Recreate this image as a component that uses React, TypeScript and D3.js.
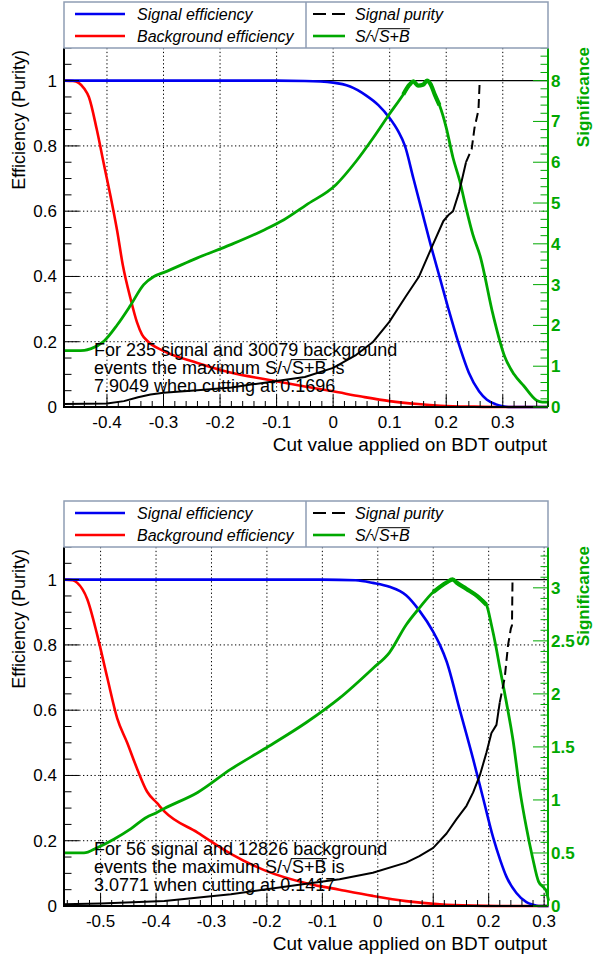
import React from 'react';
import * as d3 from 'd3';

type Pt = [number, number];

const FONT = "'Liberation Sans', Arial, Helvetica, sans-serif";
const BLUE = '#0000f0';
const RED = '#ff0000';
const GREEN = '#00a800';
const FRAME = '#8e9db4';

// ---------- Panel 1 data (BDT output, value) ----------
const sigEff1: Pt[] = [[-0.476,1],[-0.1,1],[-0.05,0.999],[0,0.994],[0.03,0.982],[0.058,0.955],[0.08,0.925],[0.1,0.885],[0.115,0.845],[0.127,0.8],[0.142,0.7],[0.157,0.6],[0.172,0.5],[0.188,0.4],[0.204,0.3],[0.221,0.2],[0.24,0.105],[0.258,0.048],[0.272,0.022],[0.288,0.008],[0.3,0.002],[0.31,0],[0.38,0]];
const bkgEff1: Pt[] = [[-0.476,1],[-0.46,0.999],[-0.45,0.993],[-0.44,0.975],[-0.432,0.95],[-0.418,0.85],[-0.405,0.74],[-0.393,0.64],[-0.382,0.54],[-0.372,0.435],[-0.358,0.33],[-0.347,0.26],[-0.338,0.222],[-0.329,0.203],[-0.3,0.172],[-0.24,0.135],[-0.18,0.105],[-0.12,0.085],[-0.05,0.063],[0,0.048],[0.05,0.032],[0.1,0.018],[0.15,0.009],[0.19,0.004],[0.25,0.001],[0.3,0],[0.38,0]];
const purity1: Pt[] = [[-0.476,0.009],[-0.4,0.011],[-0.37,0.018],[-0.345,0.03],[-0.323,0.038],[-0.3,0.044],[-0.24,0.051],[-0.18,0.06],[-0.1,0.08],[-0.05,0.092],[0,0.12],[0.041,0.16],[0.071,0.2],[0.099,0.26],[0.129,0.34],[0.152,0.4],[0.177,0.5],[0.195,0.57],[0.205,0.59],[0.212,0.6],[0.223,0.66],[0.235,0.75],[0.245,0.79],[0.25,0.855],[0.257,0.91],[0.259,0.99],[0.26,1],[0.38,1]];
const signif1: Pt[] = [[-0.476,1.38],[-0.44,1.39],[-0.428,1.43],[-0.405,1.62],[-0.382,2.01],[-0.358,2.5],[-0.335,3.0],[-0.317,3.2],[-0.299,3.3],[-0.241,3.65],[-0.181,3.98],[-0.122,4.34],[-0.087,4.59],[-0.048,4.95],[0.005,5.45],[0.041,6.03],[0.071,6.6],[0.099,7.17],[0.124,7.66],[0.135,7.9],[0.142,7.98],[0.15,7.88],[0.159,7.9],[0.166,8.0],[0.172,7.92],[0.18,7.65],[0.188,7.4],[0.2,6.85],[0.212,6.11],[0.224,5.54],[0.235,4.88],[0.247,4.23],[0.26,3.7],[0.283,2.25],[0.303,1.25],[0.32,0.8],[0.337,0.52],[0.36,0.16],[0.37,0.12],[0.38,0.12]];
const xTicks1 = [-0.4, -0.3, -0.2, -0.1, 0, 0.1, 0.2, 0.3];
const sigTicks1 = [0, 1, 2, 3, 4, 5, 6, 7, 8];
const note1 = ['For 235 signal and 30079 background', 'events the maximum S/√S+B is', '7.9049 when cutting at 0.1696'];

// ---------- Panel 2 data ----------
const sigEff2: Pt[] = [[-0.566,1],[-0.1,1],[-0.04,0.998],[-0.009,0.99],[0.021,0.978],[0.051,0.952],[0.075,0.905],[0.1,0.84],[0.112,0.8],[0.124,0.75],[0.148,0.6],[0.172,0.45],[0.19,0.33],[0.208,0.21],[0.221,0.14],[0.232,0.09],[0.25,0.04],[0.268,0.012],[0.28,0.004],[0.29,0],[0.308,0]];
const bkgEff2: Pt[] = [[-0.566,1],[-0.55,0.998],[-0.542,0.99],[-0.524,0.94],[-0.506,0.83],[-0.488,0.7],[-0.47,0.575],[-0.452,0.5],[-0.434,0.42],[-0.416,0.35],[-0.398,0.315],[-0.385,0.29],[-0.325,0.225],[-0.265,0.16],[-0.205,0.11],[-0.129,0.07],[-0.069,0.05],[-0.009,0.031],[0.051,0.015],[0.112,0.005],[0.17,0.001],[0.22,0],[0.308,0]];
const purity2: Pt[] = [[-0.566,0.005],[-0.5,0.008],[-0.385,0.015],[-0.265,0.036],[-0.129,0.068],[-0.069,0.082],[-0.009,0.102],[0.051,0.133],[0.075,0.153],[0.1,0.178],[0.124,0.222],[0.142,0.266],[0.16,0.307],[0.172,0.348],[0.184,0.4],[0.196,0.47],[0.205,0.53],[0.214,0.555],[0.22,0.624],[0.229,0.7],[0.235,0.8],[0.24,0.85],[0.242,0.86],[0.243,1],[0.308,1]];
const signif2: Pt[] = [[-0.566,0.5],[-0.53,0.5],[-0.506,0.55],[-0.476,0.63],[-0.445,0.73],[-0.416,0.84],[-0.403,0.87],[-0.385,0.92],[-0.325,1.07],[-0.265,1.29],[-0.205,1.48],[-0.129,1.73],[-0.069,1.96],[-0.009,2.24],[0.021,2.39],[0.051,2.65],[0.075,2.81],[0.1,2.96],[0.124,3.05],[0.135,3.08],[0.142,3.05],[0.16,2.99],[0.18,2.92],[0.196,2.84],[0.205,2.65],[0.213,2.45],[0.22,2.25],[0.232,1.92],[0.244,1.56],[0.256,1.1],[0.268,0.74],[0.279,0.46],[0.29,0.23],[0.3,0.17],[0.304,0.14],[0.308,0.05]];
const xTicks2 = [-0.5, -0.4, -0.3, -0.2, -0.1, 0, 0.1, 0.2, 0.3];
const sigTicks2 = [0, 0.5, 1, 1.5, 2, 2.5, 3];
const note2 = ['For 56 signal and 12826 background', 'events the maximum S/√S+B is', '3.0771 when cutting at 0.1417'];

const effTicks = [0, 0.2, 0.4, 0.6, 0.8, 1];

const fmt = (v: number) => (Math.abs(v) < 1e-9 ? '0' : String(+v.toFixed(2)));

let ctx: CanvasRenderingContext2D | null = null;
function measure(text: string, size: number, italic = false): number {
  if (!ctx) ctx = document.createElement('canvas').getContext('2d');
  if (!ctx) return text.length * size * 0.5;
  ctx.font = `${italic ? 'italic ' : ''}${size}px 'Liberation Sans', Arial, sans-serif`;
  return ctx.measureText(text).width;
}

// draws a text containing "√S+B" and adds the radical's bar over "S+B"
function RadText({ x, y, text, size, italic }: { x: number; y: number; text: string; size: number; italic?: boolean }) {
  const i = text.indexOf('√');
  const a = x + measure(text.slice(0, i + 1), size, italic) - size * 0.06;
  const b = x + measure(text.slice(0, i + 4), size, italic) + size * 0.02;
  const by = y - size * 0.8;
  return (
    <g>
      <text x={x} y={y} fontSize={size} fontStyle={italic ? 'italic' : undefined}>{text}</text>
      <line x1={a} x2={b} y1={by} y2={by} stroke="#000" strokeWidth={1} />
    </g>
  );
}

interface PanelProps {
  y0: number;
  xDomain: [number, number];
  xTicks: number[];
  sigMax: number;
  sigTicks: number[];
  sigMinor: number;
  sigEff: Pt[];
  bkgEff: Pt[];
  purity: Pt[];
  signif: Pt[];
  dashFrom: number;
  noisy: [number, number];
  note: string[];
}

function Panel(p: PanelProps) {
  const L = 64, R = 548;
  const T = 48 + p.y0, B = 407 + p.y0;
  const x = d3.scaleLinear().domain(p.xDomain).range([L, R]);
  const y = d3.scaleLinear().domain([0, 1.1]).range([B, T]);
  const ys = d3.scaleLinear().domain([0, p.sigMax]).range([B, T]);
  const line = d3.line<Pt>().x(d => x(d[0])).y(d => y(d[1])).curve(d3.curveMonotoneX);
  const lineLin = d3.line<Pt>().x(d => x(d[0])).y(d => y(d[1]));
  const sline = d3.line<Pt>().x(d => x(d[0])).y(d => ys(d[1])).curve(d3.curveMonotoneX);

  const minorX = d3.range(Math.ceil(p.xDomain[0] / 0.02 - 1e-6), Math.floor(p.xDomain[1] / 0.02 + 1e-6) + 1).map(i => i * 0.02);
  const minorY = d3.range(0, 23).map(i => i * 0.05).filter(v => v <= 1.1 + 1e-9);
  const nMinorS = Math.floor(p.sigMax / p.sigMinor + 1e-6);
  const minorS = d3.range(0, nMinorS + 1).map(i => i * p.sigMinor);

  const purSolid = p.purity.filter(d => d[0] <= p.dashFrom);
  const lastSolid = purSolid[purSolid.length - 1];
  const purDash = [lastSolid, ...p.purity.filter(d => d[0] > p.dashFrom && d[1] < 1)];
  const firstOne = p.purity.find(d => d[1] >= 1);
  if (firstOne) purDash.push(firstOne);

  const noisyPart = p.signif.filter(d => d[0] >= p.noisy[0] && d[0] <= p.noisy[1]);

  const ly = 2 + p.y0;
  const row1 = ly + 12, row2 = ly + 34;

  return (
    <g fontFamily={FONT}>
      {/* grid */}
      {p.xTicks.map(t => (
        <line key={'gx' + t} x1={x(t)} x2={x(t)} y1={T} y2={B} stroke="#000" strokeWidth={1} strokeDasharray="1.3,2.5" />
      ))}
      {effTicks.filter(t => t > 0 && t < 1).map(t => (
        <line key={'gy' + t} x1={L} x2={R} y1={y(t)} y2={y(t)} stroke="#000" strokeWidth={1} strokeDasharray="1.3,2.5" />
      ))}
      <line x1={L} x2={R} y1={y(1)} y2={y(1)} stroke="#000" strokeWidth={1.2} />

      {/* curves */}
      <path d={line(p.bkgEff) || ''} fill="none" stroke={RED} strokeWidth={2.6} strokeLinejoin="round" />
      <path d={line(p.sigEff) || ''} fill="none" stroke={BLUE} strokeWidth={2.6} strokeLinejoin="round" />
      <path d={sline(p.signif) || ''} fill="none" stroke={GREEN} strokeWidth={2.8} strokeLinejoin="round" />
      <path d={sline(noisyPart) || ''} fill="none" stroke={GREEN} strokeWidth={4.2} strokeLinejoin="round" strokeLinecap="butt" />
      <path d={lineLin(purSolid) || ''} fill="none" stroke="#000" strokeWidth={2} strokeLinejoin="round" />
      <path d={lineLin(purDash) || ''} fill="none" stroke="#000" strokeWidth={2} strokeDasharray="9,5" />

      {/* axes */}
      <line x1={L} x2={L} y1={T} y2={B + 1} stroke="#000" strokeWidth={2} />
      <line x1={L - 1} x2={R} y1={B} y2={B} stroke="#000" strokeWidth={2} />
      <line x1={R} x2={R} y1={T} y2={B} stroke={GREEN} strokeWidth={2} />

      {minorX.map(t => {
        const major = p.xTicks.some(m => Math.abs(m - t) < 1e-6);
        return <line key={'tx' + t} x1={x(t)} x2={x(t)} y1={B} y2={B - (major ? 12 : 6)} stroke="#000" strokeWidth={1} />;
      })}
      {p.xTicks.map(t => (
        <text key={'lx' + t} x={x(t)} y={B + 21} textAnchor="middle" fontSize={17}>{fmt(t)}</text>
      ))}
      <text x={R - 1} y={B + 44} textAnchor="end" fontSize={19}>Cut value applied on BDT output</text>

      {minorY.map(t => {
        const major = effTicks.some(m => Math.abs(m - t) < 1e-6);
        return <line key={'ty' + t} x1={L} x2={L + (major ? 15 : 7.5)} y1={y(t)} y2={y(t)} stroke="#000" strokeWidth={1} />;
      })}
      {effTicks.map(t => (
        <text key={'ly' + t} x={57} y={y(t)} dy="0.35em" textAnchor="end" fontSize={17}>{fmt(t)}</text>
      ))}
      <text transform={`translate(25,${T + 2}) rotate(-90)`} textAnchor="end" fontSize={18}>Efficiency (Purity)</text>

      {minorS.map(t => {
        const major = p.sigTicks.some(m => Math.abs(m - t) < 1e-6);
        return <line key={'ts' + t} x1={R} x2={R - (major ? 15 : 7.5)} y1={ys(t)} y2={ys(t)} stroke={GREEN} strokeWidth={1} />;
      })}
      {p.sigTicks.map(t => (
        <text key={'ls' + t} x={551} y={ys(t)} dy="0.35em" fontSize={17} fontWeight="bold" fill={GREEN}>{fmt(t)}</text>
      ))}
      <text transform={`translate(589,${T - 1}) rotate(-90)`} textAnchor="end" fontSize={17} fontWeight="bold" fill={GREEN}>Significance</text>

      {/* note */}
      <text x={94} y={B - 51} fontSize={18}>{p.note[0]}</text>
      <RadText x={94} y={B - 33} text={p.note[1]} size={18} />
      <text x={94} y={B - 15} fontSize={18}>{p.note[2]}</text>

      {/* legend */}
      <rect x={L} y={ly} width={R - L} height={T - ly} fill="#fff" stroke={FRAME} strokeWidth={1.5} />
      <line x1={306} x2={306} y1={ly} y2={T} stroke={FRAME} strokeWidth={1.5} />
      <line x1={75} x2={125} y1={row1} y2={row1} stroke={BLUE} strokeWidth={2.6} />
      <line x1={75} x2={125} y1={row2} y2={row2} stroke={RED} strokeWidth={2.6} />
      <line x1={313} x2={345} y1={row1} y2={row1} stroke="#000" strokeWidth={2} strokeDasharray="13,6" />
      <line x1={313} x2={345} y1={row2} y2={row2} stroke={GREEN} strokeWidth={2.6} />
      <text x={137} y={row1 + 5.5} fontSize={16} fontStyle="italic">Signal efficiency</text>
      <text x={137} y={row2 + 5.5} fontSize={16} fontStyle="italic">Background efficiency</text>
      <text x={355} y={row1 + 5.5} fontSize={16} fontStyle="italic">Signal purity</text>
      <RadText x={355} y={row2 + 5.5} text="S/√S+B" size={16} italic />
    </g>
  );
}

export default function App() {
  return (
    <svg width={594} height={960} style={{ position: 'absolute', left: 0, top: 0, background: '#fff' }}>
      <rect x={0} y={0} width={594} height={960} fill="#fff" />
      <Panel y0={0} xDomain={[-0.476, 0.38]} xTicks={xTicks1} sigMax={8.8} sigTicks={sigTicks1} sigMinor={0.2}
        sigEff={sigEff1} bkgEff={bkgEff1} purity={purity1} signif={signif1} dashFrom={0.238} noisy={[0.1, 0.19]} note={note1} />
      <Panel y0={499} xDomain={[-0.566, 0.307]} xTicks={xTicks2} sigMax={3.385} sigTicks={sigTicks2} sigMinor={0.1}
        sigEff={sigEff2} bkgEff={bkgEff2} purity={purity2} signif={signif2} dashFrom={0.222} noisy={[0.1, 0.2]} note={note2} />
    </svg>
  );
}
